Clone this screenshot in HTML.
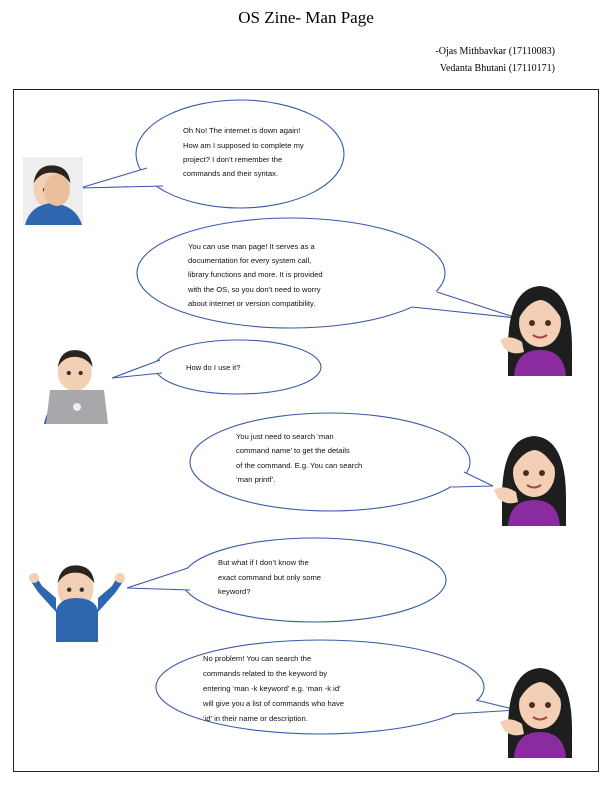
<!DOCTYPE html>
<html><head><meta charset="utf-8"><style>
body{margin:0;background:#fff;}
svg{display:block;}
.t{font-family:"Liberation Sans",sans-serif;font-size:7.6px;fill:#111;}
.b{fill:#fff;stroke:#3a5aa8;stroke-width:1.1;}
.f{fill:#fff;stroke:none;}
.l{fill:none;stroke:#3a5aa8;stroke-width:1.1;}
</style></head><body>
<svg width="612" height="792" viewBox="0 0 612 792" xmlns="http://www.w3.org/2000/svg">
<text x="306" y="23" text-anchor="middle" font-family="Liberation Serif,serif" font-size="17">OS Zine- Man Page</text>
<text x="555" y="54" text-anchor="end" font-family="Liberation Serif,serif" font-size="10">-Ojas Mithbavkar (17110083)</text>
<text x="555" y="71" text-anchor="end" font-family="Liberation Serif,serif" font-size="10">Vedanta Bhutani (17110171)</text>
<rect x="13.5" y="89.5" width="585" height="682" fill="none" stroke="#222" stroke-width="1"/>

<defs>
<g id="woman">
 <path d="M8 70 Q8 10 40 8 Q72 10 72 70 L72 98 L8 98Z" fill="#1e1e1e"/>
 <ellipse cx="40" cy="45" rx="21" ry="24" fill="#f2cfb5"/>
 <path d="M19 40 Q22 16 40 16 Q58 16 61 40 Q50 22 40 22 Q28 24 19 40Z" fill="#1e1e1e"/>
 <circle cx="32" cy="45" r="3" fill="#4a2e1e"/><circle cx="48" cy="45" r="3" fill="#4a2e1e"/>
 <path d="M33 57 Q40 62 47 57" stroke="#a44" stroke-width="2" fill="none"/>
 <path d="M14 98 Q16 72 40 72 Q64 72 66 98Z" fill="#8a2ca0"/>
 <path d="M0 62 Q10 56 22 64 L24 74 Q12 78 4 70Z" fill="#f2cfb5"/>
</g>
<g id="man">
 <ellipse cx="35" cy="32" rx="20" ry="22" fill="#f2cfb5"/>
 <path d="M15 26 Q18 6 35 6 Q54 6 56 26 Q48 14 35 14 Q22 14 15 26Z" fill="#2a2420"/>
 <circle cx="28" cy="33" r="2.5" fill="#333"/><circle cx="42" cy="33" r="2.5" fill="#333"/>
</g>
</defs>

<!-- bubble 1 -->
<ellipse class="b" cx="240" cy="154" rx="104" ry="54"/>
<polygon class="f" points="147,168 80,188 163,186 190,170 170,155"/>
<polyline class="l" points="147,168 80,188 163,186"/>
<text class="t"><tspan x="183" y="133">Oh No! The internet is down again!</tspan><tspan x="183" y="148">How am I supposed to complete my</tspan><tspan x="183" y="162">project? I don’t remember the</tspan><tspan x="183" y="176">commands and their syntax.</tspan></text>
<rect x="23" y="157" width="60" height="68" fill="#eee"/>
<g transform="translate(20,160) scale(0.9)"><use href="#man"/></g>
<path d="M25 225 Q30 205 52 203 Q76 205 82 225Z" fill="#2f66b0"/>
<ellipse cx="57" cy="190" rx="13" ry="16" fill="#e9bf9e"/>

<!-- bubble 2 -->
<ellipse class="b" cx="291" cy="273" rx="154" ry="55"/>
<polygon class="f" points="437,292 517,318 412,307 400,290 420,280"/>
<polyline class="l" points="437,292 517,318 412,307"/>
<text class="t"><tspan x="188" y="249">You can use man page! It serves as a</tspan><tspan x="188" y="263">documentation for every system call,</tspan><tspan x="188" y="277">library functions and more. It is provided</tspan><tspan x="188" y="292">with the OS, so you don’t need to worry</tspan><tspan x="188" y="306">about internet or version compatibility.</tspan></text>
<g transform="translate(500,278)"><use href="#woman"/></g>

<!-- bubble 3 -->
<ellipse class="b" cx="238" cy="367" rx="83" ry="27"/>
<polygon class="f" points="160,360 112,378 162,373 175,367"/>
<polyline class="l" points="160,360 112,378 162,373"/>
<text class="t" x="186" y="370">How do I use it?</text>
<g transform="translate(45,345) scale(0.85)"><use href="#man"/></g>
<path d="M44 424 Q48 400 75 398 Q102 400 106 424Z" fill="#2f66b0"/>
<path d="M50 390 L104 390 L108 424 L46 424Z" fill="#a8a8ac"/>
<circle cx="77" cy="407" r="4" fill="#eee"/>

<!-- bubble 4 -->
<ellipse class="b" cx="330" cy="462" rx="140" ry="49"/>
<polygon class="f" points="464,472 493,486 452,487 440,475 455,465"/>
<polyline class="l" points="464,472 493,486 452,487"/>
<text class="t"><tspan x="236" y="439">You just need to search ‘man</tspan><tspan x="236" y="453">command name’ to get the details</tspan><tspan x="236" y="468">of the command. E.g. You can search</tspan><tspan x="236" y="482">‘man printf’.</tspan></text>
<g transform="translate(494,428)"><use href="#woman"/></g>

<!-- bubble 5 -->
<ellipse class="b" cx="314" cy="580" rx="132" ry="42"/>
<polygon class="f" points="188,568 127,588 190,590 205,580"/>
<polyline class="l" points="188,568 127,588 190,590"/>
<text class="t"><tspan x="218" y="565">But what if I don’t know the</tspan><tspan x="218" y="580">exact command but only some</tspan><tspan x="218" y="594">keyword?</tspan></text>
<g transform="translate(44,560) scale(0.9)"><use href="#man"/></g>
<path d="M56 642 L56 610 Q60 598 76 598 Q94 598 98 610 L98 642Z" fill="#2f66b0"/>
<path d="M56 612 L38 592 L30 580 L36 576 L42 586 L56 598Z" fill="#2f66b0"/>
<path d="M98 612 L116 592 L124 580 L118 576 L112 586 L98 598Z" fill="#2f66b0"/>
<circle cx="34" cy="578" r="5" fill="#f2cfb5"/><circle cx="120" cy="578" r="5" fill="#f2cfb5"/>

<!-- bubble 6 -->
<ellipse class="b" cx="320" cy="687" rx="164" ry="47"/>
<polygon class="f" points="476,700 517,710 452,714 445,700 465,693"/>
<polyline class="l" points="476,700 517,710 452,714"/>
<text class="t"><tspan x="203" y="661">No problem! You can search the</tspan><tspan x="203" y="676">commands related to the keyword by</tspan><tspan x="203" y="691">entering ‘man -k keyword’ e.g. ‘man -k id’</tspan><tspan x="203" y="706">will give you a list of commands who have</tspan><tspan x="203" y="721">‘id’ in their name or description.</tspan></text>
<g transform="translate(500,660)"><use href="#woman"/></g>
</svg>
</body></html>
